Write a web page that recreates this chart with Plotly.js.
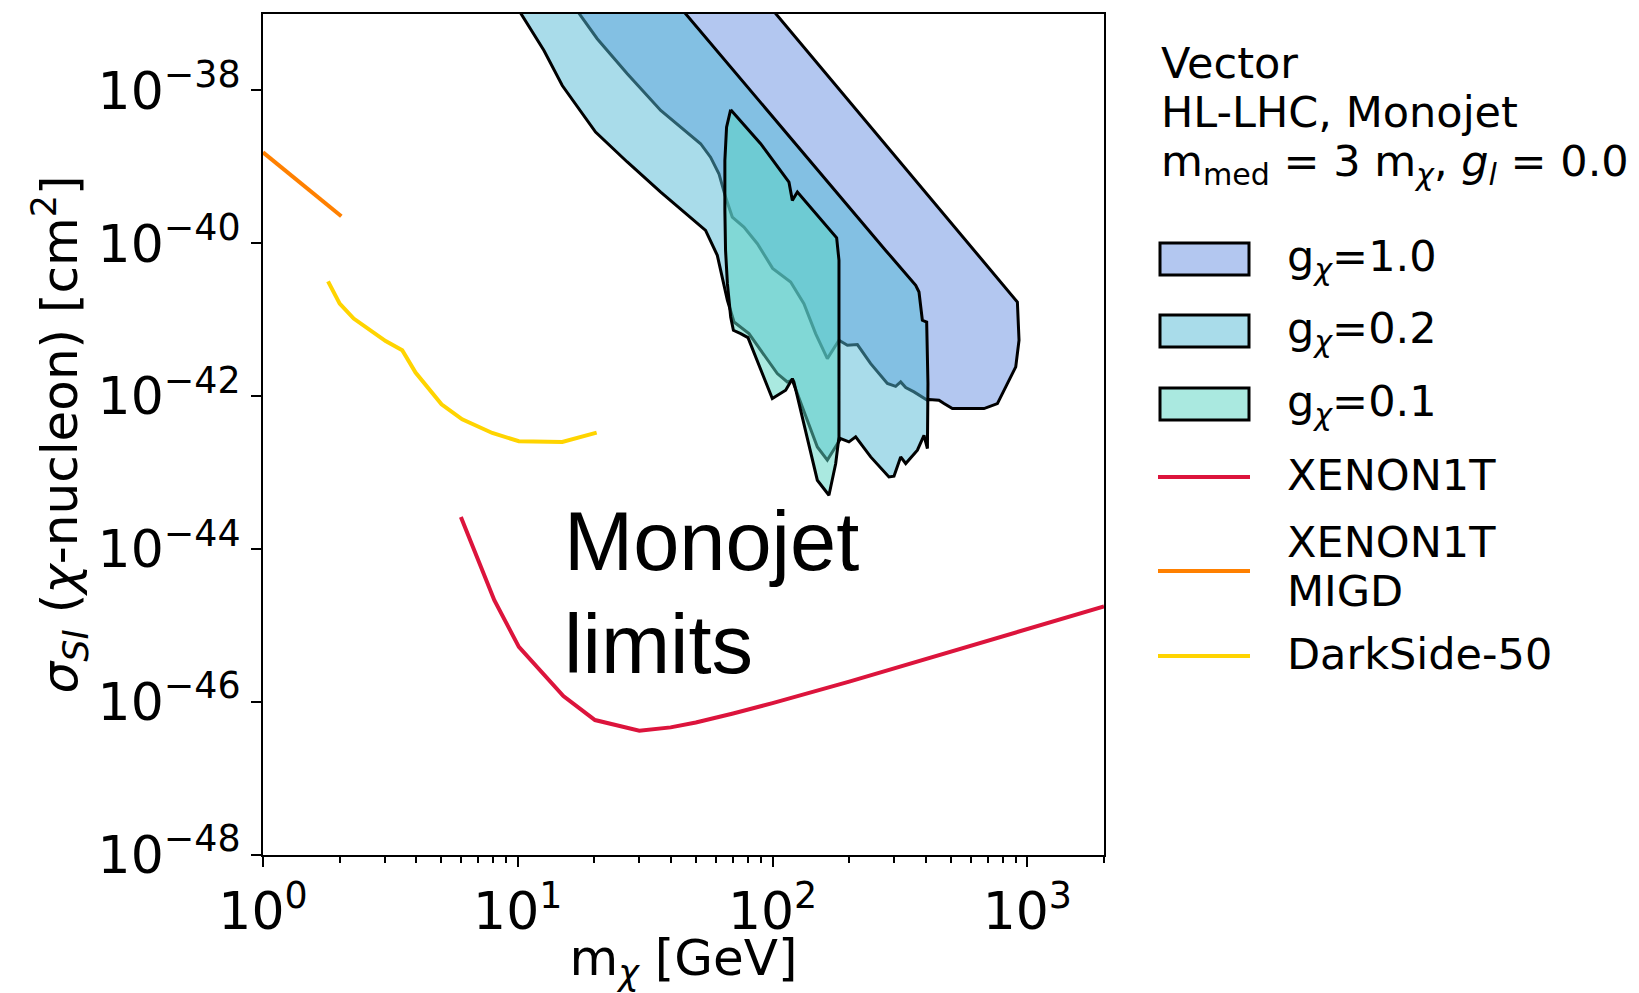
<!DOCTYPE html>
<html>
<head>
<meta charset="utf-8">
<script src="https://cdn.plot.ly/plotly-3.0.1.min.js"></script>
<style>
html,body{margin:0;padding:0;background:#fff;}
#chart{width:1639px;height:993px;}
</style>
</head>
<body>
<div id="chart"></div>
<script>
// ---------------- DATA ----------------
// g_chi = 1.0 band: lower-left edge (top -> bottom) and upper-right edge (top -> bottom)
const g10_lowerMass = [15.05, 20.5, 26.9, 36.4, 52.2, 57.1, 61.6, 65.4, 69.5, 77.2, 87.2, 100.1, 117.8, 132.8, 147.6, 164.1, 182.3, 196.7, 215.3, 242.8, 282.3, 304.3, 318.4, 333.2, 359.1, 405.4];
const g10_lowerXsec = [2.0e-37, 4.75e-38, 1.65e-38, 5.48e-39, 2.01e-39, 1.34e-39, 8.15e-40, 4.03e-40, 2.21e-40, 1.63e-40, 9.9e-41, 4.71e-41, 3.12e-41, 1.63e-41, 6.6e-42, 3.11e-42, 5.4e-42, 4.65e-42, 4.74e-42, 2.67e-42, 1.47e-42, 1.35e-42, 1.54e-42, 1.3e-42, 1.14e-42, 8.87e-43];
const g10_upperMass = [86.7, 914.2, 927.9, 900.7, 763.1, 676.1, 508.1, 471.0, 450.2, 411.1];
const g10_upperXsec = [2.0e-37, 1.71e-41, 5.4e-42, 2.42e-42, 8.03e-43, 6.9e-43, 6.9e-43, 8.03e-43, 8.87e-43, 9.05e-43];

// g_chi = 0.2 band
const g02_lowerMass = [9.06, 12.67, 14.95, 20.2, 26.9, 36.4, 54.6, 57.1, 60.7, 66.5, 70.6, 80.8, 104.4, 114.3, 119.6, 130.9, 149.9, 164.1, 177.0, 185.1, 199.5, 212.0, 242.8, 286.4, 299.7, 318.4, 333.2, 370.3, 393.1, 405.4];
const g02_lowerXsec = [2.0e-37, 3.33e-38, 1.16e-38, 2.85e-39, 1.16e-39, 4.69e-40, 1.48e-40, 1.09e-40, 6.97e-41, 1.80e-41, 9.35e-42, 6.6e-42, 1.98e-42, 1.54e-42, 1.62e-42, 7.24e-43, 2.17e-43, 1.46e-43, 2.17e-43, 2.8e-43, 2.53e-43, 2.94e-43, 1.61e-43, 8.8e-44, 9.0e-44, 1.61e-43, 1.32e-43, 1.97e-43, 3.09e-43, 2.07e-43];
const g02_upperMass = [38.3, 278.0, 364.7, 375.7, 387.3, 402.7, 407.4];
const g02_upperXsec = [2.0e-37, 8.09e-41, 2.82e-41, 2.31e-41, 9.86e-42, 9.35e-42, 1.47e-42];

// g_chi = 0.1 band: right edge and left/lower edge, both from the top vertex down to the bottom tip
const g01_rightMass = [68.5, 89.8, 116.0, 119.6, 125.2, 178.5, 182.3, 182.3, 177.0, 166.5];
const g01_rightXsec = [5.6e-39, 2.01e-39, 6.32e-40, 3.65e-40, 4.69e-40, 1.18e-40, 6.0e-41, 2.94e-43, 1.32e-43, 5.08e-44];
const g01_leftMass = [68.5, 66.0, 65.0, 65.0, 65.4, 66.5, 68.5, 70.2, 75.0, 80.1, 99.8, 112.6, 119.6, 121.3, 149.9, 166.5];
const g01_leftXsec = [5.6e-39, 3.31e-39, 1.22e-39, 2.7e-40, 8.09e-41, 2.97e-41, 1.09e-41, 7.3e-42, 6.6e-42, 5.85e-42, 9.33e-43, 1.2e-42, 1.70e-42, 1.54e-42, 7.98e-44, 5.08e-44];

// Direct-detection limits
const xenonMass = [5.98, 8.09, 10.1, 15.1, 20.1, 30.0, 39.8, 50, 70, 100, 200, 500, 1000, 2000];
const xenonXsec = [2.64e-44, 2.15e-45, 5.28e-46, 1.2e-46, 5.82e-47, 4.22e-47, 4.67e-47, 5.4e-47, 7.1e-47, 9.7e-47, 1.85e-46, 4.5e-46, 8.9e-46, 1.78e-45];
const migdMass = [1.0, 2.03];
const migdXsec = [1.55e-39, 2.26e-40];
const darksideMass = [1.80, 2.0, 2.27, 3.03, 3.52, 3.97, 5.02, 6.05, 7.94, 10.1, 14.95, 20.4];
const darksideXsec = [3.18e-41, 1.63e-41, 1.04e-41, 5.28e-42, 3.99e-42, 2.04e-42, 7.85e-43, 5.0e-43, 3.31e-43, 2.58e-43, 2.53e-43, 3.35e-43];

// Tick labels
const xTickVals = [1, 10, 100, 1000];
const xTickText = ['10<sup>0</sup>', '10<sup>1</sup>', '10<sup>2</sup>', '10<sup>3</sup>'];
const yTickVals = [1e-48, 1e-46, 1e-44, 1e-42, 1e-40, 1e-38];
const yTickText = ['10<sup>\u221248</sup>', '10<sup>\u221246</sup>', '10<sup>\u221244</sup>', '10<sup>\u221242</sup>', '10<sup>\u221240</sup>', '10<sup>\u221238</sup>'];

// Legend / text labels
const bandNames = ['g<sub><i>\u03c7</i></sub>=1.0', 'g<sub><i>\u03c7</i></sub>=0.2', 'g<sub><i>\u03c7</i></sub>=0.1'];
const lineNames = ['XENON1T', 'XENON1T', 'MIGD', 'DarkSide-50'];
const legendTitle = ['Vector', 'HL-LHC, Monojet', 'm<sub>med</sub> = 3 m<sub><i>\u03c7</i></sub>, <i>g</i><sub><i>l</i></sub> = 0.0'];

// ---------------- STYLE ----------------
const FILL10 = 'rgba(103,143,225,0.5)';
const FILL02 = 'rgba(83,185,213,0.5)';
const FILL01 = 'rgba(92,212,196,0.52)';
const RED = '#dc143c', ORANGE = '#ff8000', GOLD = '#ffd400';

function poly(aM, aX, bM, bX) {
  return {
    x: aM.concat(bM.slice().reverse()),
    y: aX.concat(bX.slice().reverse())
  };
}
const p10 = poly(g10_lowerMass, g10_lowerXsec, g10_upperMass, g10_upperXsec);
const p02 = poly(g02_lowerMass, g02_lowerXsec, g02_upperMass, g02_upperXsec);
const p01 = poly(g01_rightMass, g01_rightXsec, g01_leftMass, g01_leftXsec);

const bandLine = {color: 'black', width: 3};
const traces = [
  {type: 'scatter', mode: 'lines', x: p10.x, y: p10.y, fill: 'toself', fillcolor: FILL10, line: bandLine, name: 'g=1.0', hoverinfo: 'skip'},
  {type: 'scatter', mode: 'lines', x: p02.x, y: p02.y, fill: 'toself', fillcolor: FILL02, line: bandLine, name: 'g=0.2', hoverinfo: 'skip'},
  {type: 'scatter', mode: 'lines', x: p01.x, y: p01.y, fill: 'toself', fillcolor: FILL01, line: bandLine, name: 'g=0.1', hoverinfo: 'skip'},
  {type: 'scatter', mode: 'lines', x: xenonMass, y: xenonXsec, line: {color: RED, width: 4}, name: 'XENON1T'},
  {type: 'scatter', mode: 'lines', x: migdMass, y: migdXsec, line: {color: ORANGE, width: 4}, name: 'XENON1T MIGD'},
  {type: 'scatter', mode: 'lines', x: darksideMass, y: darksideXsec, line: {color: GOLD, width: 4}, name: 'DarkSide-50'}
];

// minor ticks positions on the log x axis
const xMinor = [];
for (let d = 1; d <= 1000; d *= 10) for (let k = 2; k <= 9; k++) if (k * d <= 2000) xMinor.push(k * d);

// pixel -> paper helpers (plot area: x 263..1104, y 14..855)
const PX = X => (X - 263) / 841;
const PY = Y => (855 - Y) / 841;

const LFONT = {family: 'DejaVu Sans', size: 43, color: 'black'};
function txt(text, X, Y, font, anchor) {
  return {text: text, xref: 'paper', yref: 'paper', x: PX(X), y: PY(Y), xanchor: anchor || 'left', yanchor: 'middle', showarrow: false, font: font || LFONT, align: 'left'};
}
const BIG = {family: 'Liberation Sans, Arial, sans-serif', size: 83, color: 'black'};

const annotations = [
  txt(legendTitle[0], 1159, 63),
  txt(legendTitle[1], 1159, 112),
  txt(legendTitle[2], 1159, 164),
  txt(bandNames[0], 1285, 259),
  txt(bandNames[1], 1285, 331),
  txt(bandNames[2], 1285, 404),
  txt(lineNames[0], 1285, 475),
  txt(lineNames[1], 1285, 542),
  txt(lineNames[2], 1285, 591),
  txt(lineNames[3], 1285, 654),
  txt('Monojet', 562, 541, BIG),
  txt('limits', 562, 644, BIG)
];

function patch(y0, y1, fill) {
  return {type: 'rect', xref: 'paper', yref: 'paper', x0: PX(1160), x1: PX(1249), y0: PY(y1), y1: PY(y0), fillcolor: fill, line: {color: 'black', width: 3}};
}
function lseg(Y, color) {
  return {type: 'line', xref: 'paper', yref: 'paper', x0: PX(1158), x1: PX(1250), y0: PY(Y), y1: PY(Y), line: {color: color, width: 4}};
}
const shapes = [
  patch(243, 275, FILL10),
  patch(315, 347, FILL02),
  patch(388, 420, FILL01),
  lseg(477, RED),
  lseg(571, ORANGE),
  lseg(656, GOLD)
];

const axisCommon = {
  type: 'log', showgrid: false, zeroline: false,
  showline: true, linewidth: 2, linecolor: 'black', mirror: true,
  ticks: 'outside', ticklen: 10, tickwidth: 2, tickcolor: 'black',
  tickfont: {family: 'DejaVu Sans', size: 52, color: 'black'},
  tickmode: 'array'
};

const layout = {
  width: 1639, height: 993,
  margin: {l: 263, r: 535, t: 14, b: 138, pad: 0},
  paper_bgcolor: 'white', plot_bgcolor: 'white',
  showlegend: false,
  font: {family: 'DejaVu Sans', color: 'black'},
  xaxis: Object.assign({}, axisCommon, {
    range: [0, Math.log10(2000)],
    tickvals: xTickVals, ticktext: xTickText,
    minor: {tickmode: 'array', tickvals: xMinor, ticks: 'outside', ticklen: 6, tickwidth: 1.5, tickcolor: 'black', showgrid: false},
    title: {text: 'm<sub><i>\u03c7</i></sub> [GeV]', font: {family: 'DejaVu Sans', size: 50, color: 'black'}}
  }),
  yaxis: Object.assign({}, axisCommon, {
    range: [-48, -37],
    tickvals: yTickVals, ticktext: yTickText,
    title: {text: '<i>\u03c3</i><sub><i>SI</i></sub> (<i>\u03c7</i>-nucleon) [cm<sup>2</sup>]', font: {family: 'DejaVu Sans', size: 50, color: 'black'}}
  }),
  annotations: annotations,
  shapes: shapes
};

Plotly.newPlot('chart', traces, layout, {displayModeBar: false, responsive: false});
</script>
</body>
</html>
